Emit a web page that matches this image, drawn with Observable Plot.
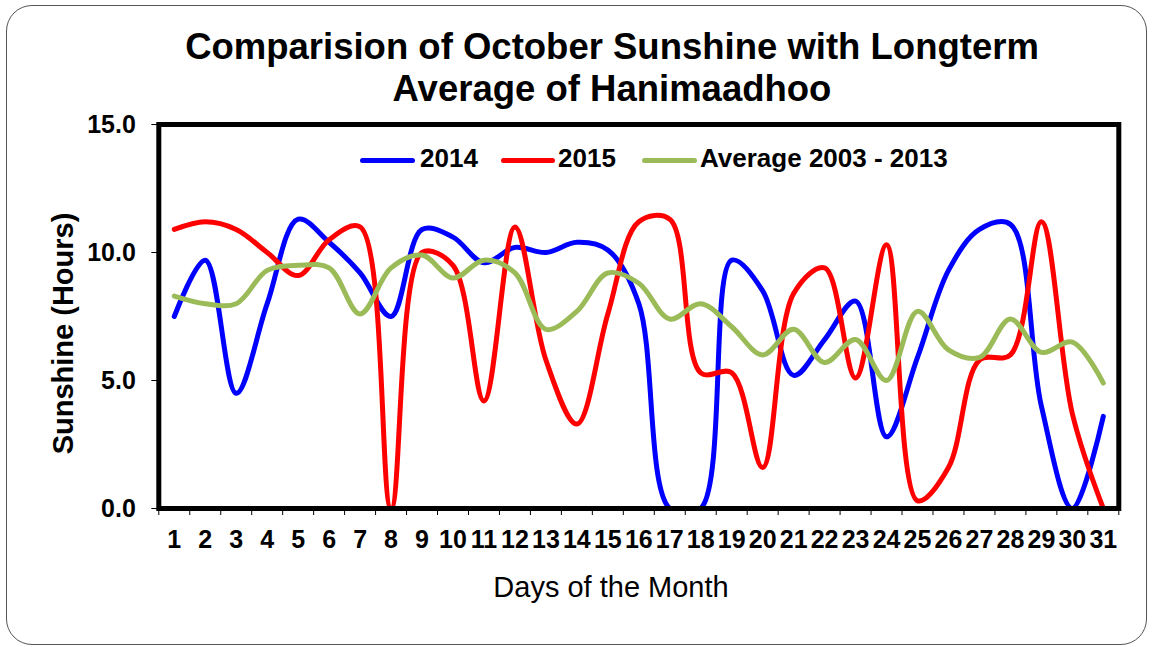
<!DOCTYPE html>
<html>
<head>
<meta charset="utf-8">
<script src="https://cdn.jsdelivr.net/npm/d3@7"></script>
<script src="https://cdn.jsdelivr.net/npm/@observablehq/plot@0.6"></script>
<style>
  html, body { margin: 0; padding: 0; background: #fff; }
  body { font-family: "Liberation Sans", Arial, sans-serif; }
  #wrap { position: relative; width: 1153px; height: 647px; overflow: hidden; }
  #wrap > * { position: absolute; }
  .frameBox { left: 6px; top: 5px; width: 1141px; height: 640px; box-sizing: border-box;
              border: 1.5px solid #555; border-radius: 26px; }
  .title { left: 0; width: 1224px; text-align: center; font-weight: bold; font-size: 36.5px;
           line-height: 36.5px; height: 36.5px; white-space: nowrap; color: #000; }
  .leg { font-weight: bold; font-size: 26px; line-height: 26px; height: 26px; white-space: nowrap; color:#000; }
  .legline { height: 5px; border-radius: 3px; }
  .xlab { left: 0; width: 1222px; text-align: center; font-size: 29px; line-height: 29px; height: 29px; color:#000; }
  .ylab { font-weight: bold; font-size: 29px; line-height: 29px; height: 29px; width: 320px; text-align: center;
          white-space: nowrap; transform: rotate(-90deg); transform-origin: 50% 50%; color:#000; }
  #chart svg { font-family: "Liberation Sans", Arial, sans-serif; }
</style>
</head>
<body>
<div id="wrap">
  <div class="frameBox"></div>
  <div id="chart" style="left:0;top:0;"></div>
</div>
<script>
// ---- Data ----
const days = [1,2,3,4,5,6,7,8,9,10,11,12,13,14,15,16,17,18,19,20,21,22,23,24,25,26,27,28,29,30,31];
const dayBoundaries = [0.5,1.5,2.5,3.5,4.5,5.5,6.5,7.5,8.5,9.5,10.5,11.5,12.5,13.5,14.5,15.5,16.5,17.5,18.5,19.5,20.5,21.5,22.5,23.5,24.5,25.5,26.5,27.5,28.5,29.5,30.5,31.5];
const seriesNames = ["2014", "2015", "Average 2003 - 2013"];
const seriesColors = ["#0000FF", "#FF0000", "#9BBB59"];
const sun2014 = [7.5, 9.7, 4.5, 8.0, 11.3, 10.4, 9.2, 7.5, 10.9, 10.6, 9.6, 10.2, 10.0, 10.4, 10.1, 8.0, 0.0, 0.0, 9.7, 8.5, 5.2, 6.6, 8.1, 2.8, 5.9, 9.3, 10.9, 11.1, 4.0, 0.0, 3.6];
const sun2015 = [10.9, 11.2, 10.9, 10.0, 9.1, 10.5, 11.0, 0.0, 10.0, 9.5, 4.2, 11.0, 5.8, 3.3, 7.6, 11.2, 11.3, 5.3, 5.3, 1.6, 8.4, 9.4, 5.1, 10.3, 0.3, 1.6, 5.8, 6.0, 11.2, 3.7, 0.0];
const sunAvg  = [8.3, 8.0, 8.0, 9.3, 9.5, 9.4, 7.6, 9.4, 9.9, 9.0, 9.7, 9.2, 7.0, 7.7, 9.2, 8.8, 7.4, 8.0, 7.1, 6.0, 7.0, 5.7, 6.6, 5.0, 7.7, 6.2, 5.9, 7.4, 6.1, 6.5, 4.9];
const yTicks = [0, 5, 10, 15];
const titleLines = ["Comparision of October Sunshine with Longterm", "Average of Hanimaadhoo"];
const xLabel = "Days of the Month";
const yLabel = "Sunshine (Hours)";

// ---- Build table ----
const allSeries = [sun2014, sun2015, sunAvg];
const rows = [];
seriesNames.forEach((name, i) => {
  days.forEach((d, j) => rows.push({ series: name, day: d, value: allSeries[i][j] }));
});

const chart = Plot.plot({
  width: 1153,
  height: 647,
  marginLeft: 158.3,
  marginRight: 34.7,
  marginTop: 124,
  marginBottom: 139,
  style: { background: "transparent", overflow: "visible", fontFamily: "Liberation Sans, Arial, sans-serif", color: "#000" },
  x: { domain: [0.5, 31.5] },
  y: { domain: [0, 15] },
  color: { domain: seriesNames, range: seriesColors },
  marks: [
    Plot.axisY({ ticks: yTicks, tickSize: 7, tickPadding: 16, tickFormat: d => d.toFixed(1),
                 fontSize: 25, fontWeight: "bold", label: null, strokeWidth: 1 }),
    Plot.axisX({ ticks: dayBoundaries, tickSize: 7, tickFormat: () => "", label: null, strokeWidth: 1 }),
    Plot.axisX({ ticks: days, tickSize: 0, tickPadding: 22, tickFormat: d => String(d),
                 fontSize: 25, fontWeight: "bold", label: null }),
    Plot.line(rows, { x: "day", y: "value", z: "series", stroke: "series", strokeWidth: 5,
                      curve: "catmull-rom", clip: true, strokeLinecap: "round", strokeLinejoin: "round" }),
    Plot.frame({ stroke: "#000", strokeWidth: 5 })
  ]
});
document.getElementById("chart").appendChild(chart);

// ---- Text and legend (HTML overlay) ----
const wrap = document.getElementById("wrap");
function add(cls, text, style) {
  const el = document.createElement("div");
  el.className = cls;
  if (text != null) el.textContent = text;
  Object.assign(el.style, style);
  wrap.appendChild(el);
  return el;
}
add("title", titleLines[0], { top: (60 - 0.8465 * 36.5) + "px" });
add("title", titleLines[1], { top: (102 - 0.8465 * 36.5) + "px" });
add("xlab", xLabel, { top: (598 - 0.8465 * 29) + "px" });
add("ylab", yLabel, { left: (63 - 160) + "px", top: (333.5 - 14.5) + "px" });

const legLines = [[360, 55], [501, 54], [642, 55]];
const legTexts = [420, 558, 700];
seriesNames.forEach((name, i) => {
  add("legline", null, { left: legLines[i][0] + "px", width: legLines[i][1] + "px", top: "157.5px", background: seriesColors[i] });
  add("leg", name, { left: legTexts[i] + "px", top: "145.3px" });
});
</script>
</body>
</html>
